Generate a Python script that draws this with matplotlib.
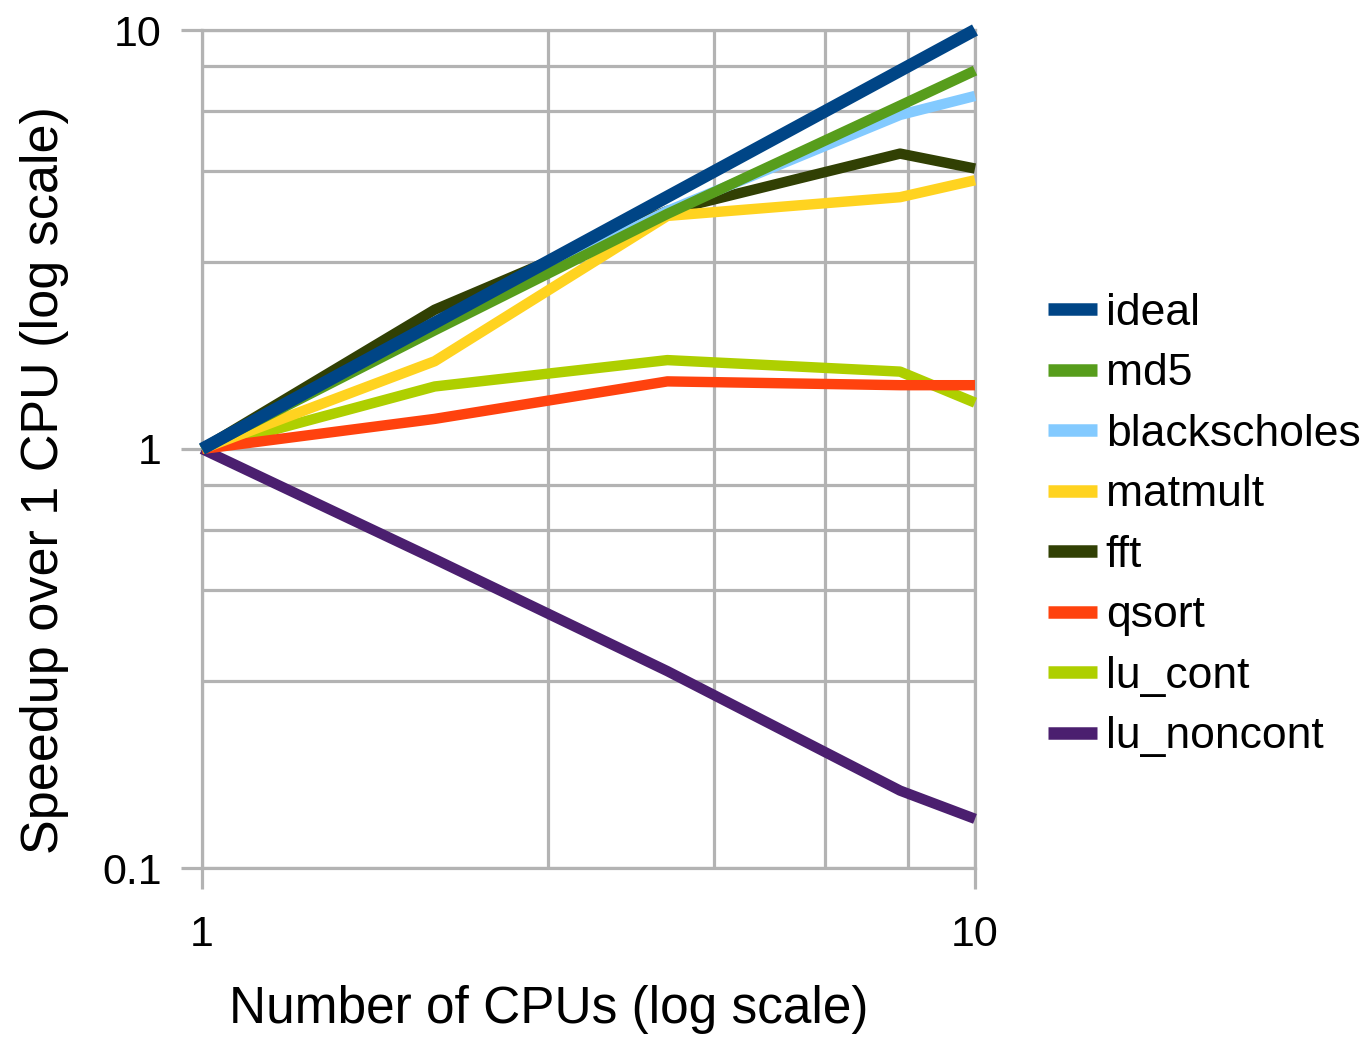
import matplotlib
matplotlib.use("Agg")
import matplotlib.pyplot as plt
from matplotlib.ticker import FixedLocator, NullFormatter

plt.rcParams['font.family'] = ['Liberation Sans', 'DejaVu Sans']

cpus = [1, 2, 4, 8, 10]
series_names = ["ideal", "md5", "blackscholes", "matmult", "fft", "qsort", "lu_cont", "lu_noncont"]
ideal = [1, 2, 4, 8, 10]
md5 = [1, 1.92, 3.64, 6.6, 8.0]
blackscholes = [1, 1.95, 3.7, 6.27, 6.96]
matmult = [1, 1.62, 3.6, 3.99, 4.38]
fft = [1, 2.15, 3.7, 5.07, 4.67]
qsort = [1, 1.18, 1.45, 1.42, 1.42]
lu_cont = [1, 1.41, 1.63, 1.53, 1.29]
lu_noncont = [1, 0.546, 0.295, 0.153, 0.131]
series_values = [ideal, md5, blackscholes, matmult, fft, qsort, lu_cont, lu_noncont]
colors = ["#004586", "#579d1c", "#83caff", "#ffd320", "#314004", "#ff420e", "#aecf00", "#4b1f6f"]

x_major = [1, 10]
x_minor = [2.8, 4.6, 6.4, 8.2]
y_major = [0.1, 1, 10]
y_major_labels = ["0.1", "1", "10"]
y_minor = [0.28, 0.46, 0.64, 0.82, 2.8, 4.6, 6.4, 8.2]

W, H = 1369, 1037
fig = plt.figure(figsize=(W / 100, H / 100), dpi=100)
ax = fig.add_axes([202 / W, 1 - 868 / H, (975 - 202) / W, (868 - 30) / H])
ax.set_xscale('log')
ax.set_yscale('log')
ax.set_xlim(1, 10)
ax.set_ylim(0.1, 10)

grid_color = "#b3b3b3"
for s in ax.spines.values():
    s.set_color(grid_color)
    s.set_linewidth(2.3)

ax.xaxis.set_major_locator(FixedLocator(x_major))
ax.xaxis.set_minor_locator(FixedLocator(x_minor))
ax.yaxis.set_major_locator(FixedLocator(y_major))
ax.yaxis.set_minor_locator(FixedLocator(y_minor))
ax.set_xticklabels([str(v) for v in x_major])
ax.set_yticklabels(y_major_labels)
ax.xaxis.set_minor_formatter(NullFormatter())
ax.yaxis.set_minor_formatter(NullFormatter())
ax.tick_params(which='major', length=15, width=2.3, color=grid_color, labelsize=31, pad=14)
ax.tick_params(axis='x', which='major', pad=19)
ax.tick_params(which='minor', length=0)
ax.grid(True, which='both', color=grid_color, linewidth=2.3)
ax.set_axisbelow(True)

n = len(series_names)
for i, (name, vals, c) in enumerate(zip(series_names, series_values, colors)):
    lw = 9 if name == "ideal" else 7.5
    ax.plot(cpus, vals, color=c, lw=lw, label=name, zorder=10 + (n - i),
            clip_on=False, solid_capstyle='butt', solid_joinstyle='round')

ax.set_xlabel("Number of CPUs (log scale)", fontsize=37)
ax.xaxis.set_label_coords((549 - 202) / 773, -(1010 - 868) / 838)
ax.xaxis.label.set_va('center')
ax.set_ylabel("Speedup over 1 CPU (log scale)", fontsize=37.5)
ax.yaxis.set_label_coords((45 - 202) / 773, (868 - 480) / 838)
ax.yaxis.label.set_va('center')

leg = ax.legend(loc='center left', bbox_to_anchor=(1048 / W, 1 - 525 / H),
                bbox_transform=fig.transFigure, frameon=False, fontsize=32,
                handlelength=1.1, handletextpad=0.2, labelspacing=0.44,
                borderpad=0, borderaxespad=0)
for h in leg.legend_handles:
    h.set_linewidth(9)

fig.savefig("out.png", dpi=100)
